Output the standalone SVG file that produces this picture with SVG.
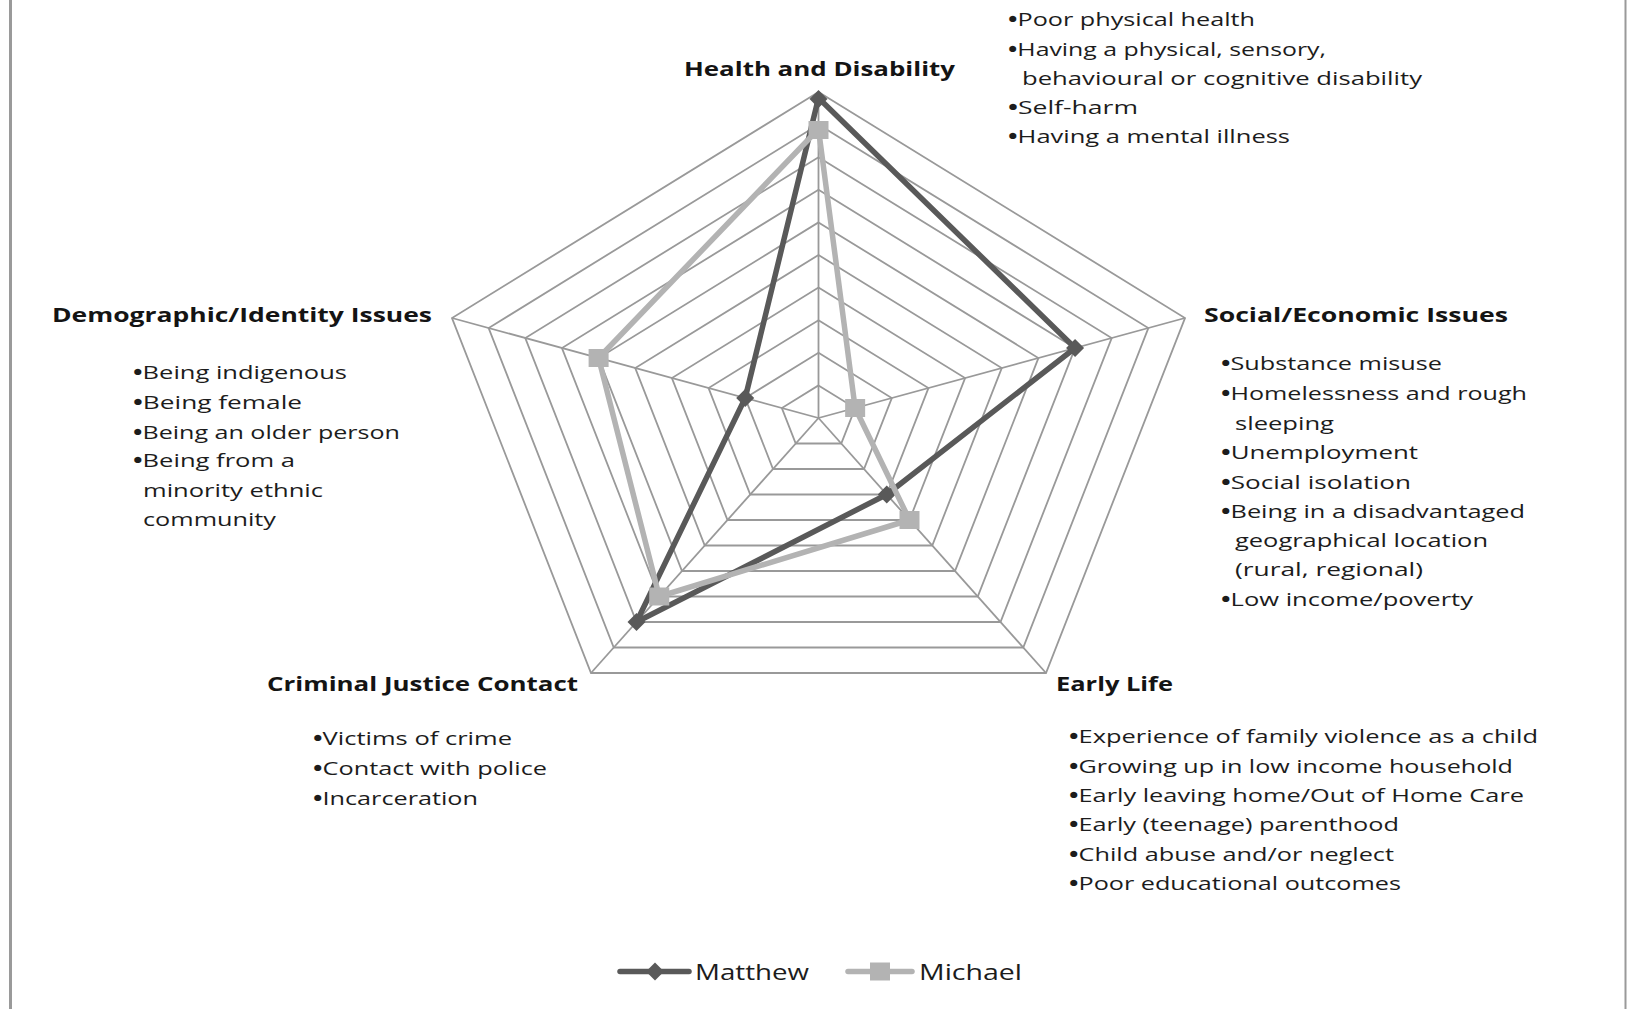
<svg xmlns="http://www.w3.org/2000/svg" width="1627" height="1009" viewBox="0 0 1627 1009">
<defs>
<style>
.grid{fill:none;stroke:#999999;stroke-width:1.8;stroke-linejoin:miter}
.spoke{stroke:#999999;stroke-width:1.8}
.s1{fill:none;stroke:#595959;stroke-width:5.5;stroke-linejoin:round}
.s2{fill:none;stroke:#b3b3b3;stroke-width:5.5;stroke-linejoin:round}
.hd{font-family:"Open Sans","Liberation Sans",sans-serif;font-weight:bold;font-size:20px;fill:#141414}
.tx{font-family:"Open Sans","Liberation Sans",sans-serif;font-size:19px;fill:#1c1c1c}
.lg{font-family:"Open Sans","Liberation Sans",sans-serif;font-size:22px;fill:#1c1c1c}
.b{font-weight:bold}
</style>
<path id="dia" d="M0,-9 L9,0 L0,9 L-9,0 Z" fill="#595959"/>
<rect id="sq" x="-10" y="-9" width="20" height="18" fill="#b3b3b3"/>
</defs>
<rect x="0" y="0" width="1627" height="1009" fill="#ffffff"/>
<line x1="10.5" y1="0" x2="10.5" y2="1009" stroke="#9a9a9a" stroke-width="3"/>
<line x1="1625.5" y1="0" x2="1625.5" y2="1009" stroke="#9a9a9a" stroke-width="2"/>

<g id="grid">
<polygon class="grid" points="818.5,385.4 855.15,408 841.25,443.5 795.75,443.5 781.85,408"/>
<polygon class="grid" points="818.5,352.8 891.8,398 864,469 773,469 745.2,398"/>
<polygon class="grid" points="818.5,320.2 928.45,388 886.75,494.5 750.25,494.5 708.55,388"/>
<polygon class="grid" points="818.5,287.6 965.1,378 909.5,520 727.5,520 671.9,378"/>
<polygon class="grid" points="818.5,255 1001.75,368 932.25,545.5 704.75,545.5 635.25,368"/>
<polygon class="grid" points="818.5,222.4 1038.4,358 955,571 682,571 598.6,358"/>
<polygon class="grid" points="818.5,189.8 1075.05,348 977.75,596.5 659.25,596.5 561.95,348"/>
<polygon class="grid" points="818.5,157.2 1111.7,338 1000.5,622 636.5,622 525.3,338"/>
<polygon class="grid" points="818.5,124.6 1148.35,328 1023.25,647.5 613.75,647.5 488.65,328"/>
<polygon class="grid" points="818.5,92 1185,318 1046,673 591,673 452,318"/>
<line class="spoke" x1="818.5" y1="418" x2="818.5" y2="92"/>
<line class="spoke" x1="818.5" y1="418" x2="1185" y2="318"/>
<line class="spoke" x1="818.5" y1="418" x2="1046" y2="673"/>
<line class="spoke" x1="818.5" y1="418" x2="591" y2="673"/>
<line class="spoke" x1="818.5" y1="418" x2="452" y2="318"/>
</g>

<g id="connectors">
<g id="series-matthew">
<polygon class="s1" points="818.5,98 1075.05,348 886.75,494.5 636.5,622 745.2,398"/>
<use href="#dia" x="818.5" y="99"/>
<use href="#dia" x="1075.05" y="348"/>
<use href="#dia" x="886.75" y="494.5"/>
<use href="#dia" x="636.5" y="622"/>
<use href="#dia" x="745.2" y="398"/>
</g>
<g id="series-michael">
<polygon class="s2" points="818.5,129 855.15,408 909.5,520 659.25,596.5 598.6,358"/>
<use href="#sq" x="818.5" y="130"/>
<use href="#sq" x="855.15" y="408"/>
<use href="#sq" x="909.5" y="520"/>
<use href="#sq" x="659.25" y="596.5"/>
<use href="#sq" x="598.6" y="358"/>
</g>
</g>

<g id="node-health">
<text class="hd" x="684" y="76" textLength="271" lengthAdjust="spacingAndGlyphs">Health and Disability</text>
<text class="tx" x="1008" y="26" textLength="247" lengthAdjust="spacingAndGlyphs"><tspan class="b">•</tspan>Poor physical health</text>
<text class="tx" x="1008" y="55.5" textLength="318" lengthAdjust="spacingAndGlyphs"><tspan class="b">•</tspan>Having a physical, sensory,</text>
<text class="tx" x="1022" y="85" textLength="400" lengthAdjust="spacingAndGlyphs">behavioural  or cognitive disability</text>
<text class="tx" x="1008" y="114" textLength="130" lengthAdjust="spacingAndGlyphs"><tspan class="b">•</tspan>Self-harm</text>
<text class="tx" x="1008" y="143" textLength="282" lengthAdjust="spacingAndGlyphs"><tspan class="b">•</tspan>Having a mental illness</text>
</g>

<g id="node-social">
<text class="hd" x="1204" y="322" textLength="304" lengthAdjust="spacingAndGlyphs">Social/Economic  Issues</text>
<text class="tx" x="1221" y="370" textLength="221" lengthAdjust="spacingAndGlyphs"><tspan class="b">•</tspan>Substance misuse</text>
<text class="tx" x="1221" y="400" textLength="306" lengthAdjust="spacingAndGlyphs"><tspan class="b">•</tspan>Homelessness and rough</text>
<text class="tx" x="1235" y="430" textLength="99" lengthAdjust="spacingAndGlyphs">sleeping</text>
<text class="tx" x="1221" y="459" textLength="197" lengthAdjust="spacingAndGlyphs"><tspan class="b">•</tspan>Unemployment</text>
<text class="tx" x="1221" y="488.5" textLength="190" lengthAdjust="spacingAndGlyphs"><tspan class="b">•</tspan>Social isolation</text>
<text class="tx" x="1221" y="518" textLength="304" lengthAdjust="spacingAndGlyphs"><tspan class="b">•</tspan>Being in a disadvantaged</text>
<text class="tx" x="1235" y="547" textLength="253" lengthAdjust="spacingAndGlyphs">geographical location</text>
<text class="tx" x="1235" y="576" textLength="188" lengthAdjust="spacingAndGlyphs">(rural, regional)</text>
<text class="tx" x="1221" y="606" textLength="252" lengthAdjust="spacingAndGlyphs"><tspan class="b">•</tspan>Low income/poverty</text>
</g>

<g id="node-early">
<text class="hd" x="1056" y="691" textLength="117" lengthAdjust="spacingAndGlyphs">Early Life</text>
<text class="tx" x="1069" y="743" textLength="469" lengthAdjust="spacingAndGlyphs"><tspan class="b">•</tspan>Experience of family violence as a child</text>
<text class="tx" x="1069" y="773" textLength="444" lengthAdjust="spacingAndGlyphs"><tspan class="b">•</tspan>Growing up in low income household</text>
<text class="tx" x="1069" y="802" textLength="455" lengthAdjust="spacingAndGlyphs"><tspan class="b">•</tspan>Early leaving home/Out of Home Care</text>
<text class="tx" x="1069" y="831" textLength="330" lengthAdjust="spacingAndGlyphs"><tspan class="b">•</tspan>Early (teenage) parenthood</text>
<text class="tx" x="1069" y="861" textLength="325" lengthAdjust="spacingAndGlyphs"><tspan class="b">•</tspan>Child abuse and/or neglect</text>
<text class="tx" x="1069" y="890" textLength="332" lengthAdjust="spacingAndGlyphs"><tspan class="b">•</tspan>Poor educational outcomes</text>
</g>

<g id="node-criminal">
<text class="hd" x="267" y="691" textLength="311" lengthAdjust="spacingAndGlyphs">Criminal Justice  Contact</text>
<text class="tx" x="313" y="745" textLength="199" lengthAdjust="spacingAndGlyphs"><tspan class="b">•</tspan>Victims of crime</text>
<text class="tx" x="313" y="775" textLength="234" lengthAdjust="spacingAndGlyphs"><tspan class="b">•</tspan>Contact with police</text>
<text class="tx" x="313" y="805" textLength="165" lengthAdjust="spacingAndGlyphs"><tspan class="b">•</tspan>Incarceration</text>
</g>

<g id="node-demographic">
<text class="hd" x="52" y="322" textLength="380" lengthAdjust="spacingAndGlyphs">Demographic/Identity Issues</text>
<text class="tx" x="133" y="379" textLength="214" lengthAdjust="spacingAndGlyphs"><tspan class="b">•</tspan>Being indigenous</text>
<text class="tx" x="133" y="409" textLength="169" lengthAdjust="spacingAndGlyphs"><tspan class="b">•</tspan>Being female</text>
<text class="tx" x="133" y="439" textLength="267" lengthAdjust="spacingAndGlyphs"><tspan class="b">•</tspan>Being an older person</text>
<text class="tx" x="133" y="467" textLength="162" lengthAdjust="spacingAndGlyphs"><tspan class="b">•</tspan>Being from a</text>
<text class="tx" x="143" y="497" textLength="180" lengthAdjust="spacingAndGlyphs">minority ethnic</text>
<text class="tx" x="143" y="526" textLength="133" lengthAdjust="spacingAndGlyphs">community</text>
</g>

<g id="legend">
<line x1="620" y1="971.5" x2="689" y2="971.5" stroke="#595959" stroke-width="5.5" stroke-linecap="round"/>
<use href="#dia" x="655" y="971.5"/>
<text class="lg" x="695" y="980" textLength="114" lengthAdjust="spacingAndGlyphs">Matthew</text>
<line x1="848" y1="971.5" x2="912" y2="971.5" stroke="#b3b3b3" stroke-width="5.5" stroke-linecap="round"/>
<use href="#sq" x="880" y="971.5"/>
<text class="lg" x="919" y="980" textLength="103" lengthAdjust="spacingAndGlyphs">Michael</text>
</g>
</svg>
